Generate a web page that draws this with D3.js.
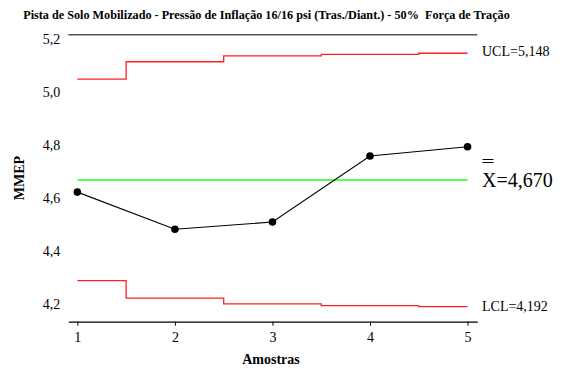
<!DOCTYPE html>
<html>
<head>
<meta charset="utf-8">
<script src="https://cdn.jsdelivr.net/npm/d3@7"></script>
<style>
  body { margin: 0; background: #fff; }
  text { font-family: "Liberation Serif", "Times New Roman", serif; }
</style>
</head>
<body>
<script>
// chart data
const samples = [1, 2, 3, 4, 5];
const means = [4.624, 4.484, 4.511, 4.760, 4.795];
const ucl = [5.050, 5.116, 5.138, 5.144, 5.148];
const lcl = [4.290, 4.224, 4.202, 4.196, 4.192];
const centerLine = 4.670;
const yTicks = [4.2, 4.4, 4.6, 4.8, 5.0, 5.2];
const title = "Pista de Solo Mobilizado - Pressão de Inflação 16/16 psi (Tras./Diant.) - 50%  Força de Tração";

const width = 566, height = 369;
const comma = f => v => d3.format(f)(v).replace(".", ",");

const svg = d3.select("body").append("svg")
  .attr("width", width)
  .attr("height", height);

const x = d3.scaleLinear().domain([0.907, 5.1]).range([68.3, 477.3]);
const y = d3.scaleLinear().domain([4.135, 5.218]).range([321.7, 34.7]);

// title
svg.append("text")
  .attr("x", 266.5).attr("y", 19)
  .attr("text-anchor", "middle")
  .style("white-space", "pre")
  .style("font-size", "12.2px").style("font-weight", "bold")
  .text(title);

// top frame line
svg.append("line")
  .attr("x1", x.range()[0]).attr("x2", x.range()[1])
  .attr("y1", y(y.domain()[1])).attr("y2", y(y.domain()[1]))
  .style("stroke", "#555").style("stroke-width", 1.5);

// y axis (no line, labels only)
const yAxis = svg.append("g")
  .attr("transform", `translate(${x.range()[0]},0)`)
  .call(d3.axisLeft(y).tickValues(yTicks).tickSize(0).tickPadding(8).tickFormat(comma(".1f")));
yAxis.select(".domain").remove();
yAxis.selectAll("text").style("font-size", "14px").style("font-family", "Liberation Serif");

// x axis
const xAxis = svg.append("g")
  .attr("transform", `translate(0,${y.range()[0]})`)
  .call(d3.axisBottom(x).tickValues(samples).tickSizeInner(4).tickSizeOuter(0).tickPadding(6).tickFormat(d3.format("d")));
xAxis.select(".domain").style("stroke-width", 1.3);
xAxis.selectAll("text").style("font-size", "14px").style("font-family", "Liberation Serif");

// axis titles
svg.append("text")
  .attr("x", 271).attr("y", 364)
  .attr("text-anchor", "middle")
  .style("font-size", "14px").style("font-weight", "bold")
  .text("Amostras");

svg.append("text")
  .attr("transform", "translate(24,178) rotate(-90)")
  .attr("text-anchor", "middle")
  .style("font-size", "14px").style("font-weight", "bold")
  .text("MMEP");

// control limits as steps
const step = d3.line().x((d, i) => x(samples[i])).y(d => y(d)).curve(d3.curveStep);
svg.append("path").datum(ucl).attr("d", step)
  .style("fill", "none").style("stroke", "#ff2020").style("stroke-width", 1.3);
svg.append("path").datum(lcl).attr("d", step)
  .style("fill", "none").style("stroke", "#ff2020").style("stroke-width", 1.3);

// center line
svg.append("line")
  .attr("x1", x(samples[0])).attr("x2", x(samples[samples.length - 1]))
  .attr("y1", y(centerLine)).attr("y2", y(centerLine))
  .style("stroke", "#20ff20").style("stroke-width", 1.5);

// sample means
svg.append("path").datum(means)
  .attr("d", d3.line().x((d, i) => x(samples[i])).y(d => y(d)))
  .style("fill", "none").style("stroke", "#000").style("stroke-width", 1.1);
svg.selectAll("circle.pt").data(means).enter().append("circle")
  .attr("class", "pt")
  .attr("cx", (d, i) => x(samples[i])).attr("cy", d => y(d))
  .attr("r", 3.8).style("fill", "#000");

// right-hand labels
const lx = 482;
svg.append("text")
  .attr("x", lx).attr("y", y(ucl[ucl.length - 1]) - 1.5).attr("dy", "0.33em")
  .style("font-size", "14px")
  .text("UCL=" + comma(".3f")(ucl[ucl.length - 1]));
svg.append("text")
  .attr("x", lx).attr("y", y(lcl[lcl.length - 1])).attr("dy", "0.33em")
  .style("font-size", "14px")
  .text("LCL=" + comma(".3f")(lcl[lcl.length - 1]));
svg.append("text")
  .attr("x", lx).attr("y", y(centerLine)).attr("dy", "0.33em")
  .style("font-size", "20px")
  .text("X=" + comma(".3f")(centerLine));
// double bar over X
[159.5, 162.5].forEach(yy => {
  svg.append("line")
    .attr("x1", lx + 0.5).attr("x2", lx + 11.5)
    .attr("y1", yy).attr("y2", yy)
    .style("stroke", "#000").style("stroke-width", 1);
});
</script>
</body>
</html>
